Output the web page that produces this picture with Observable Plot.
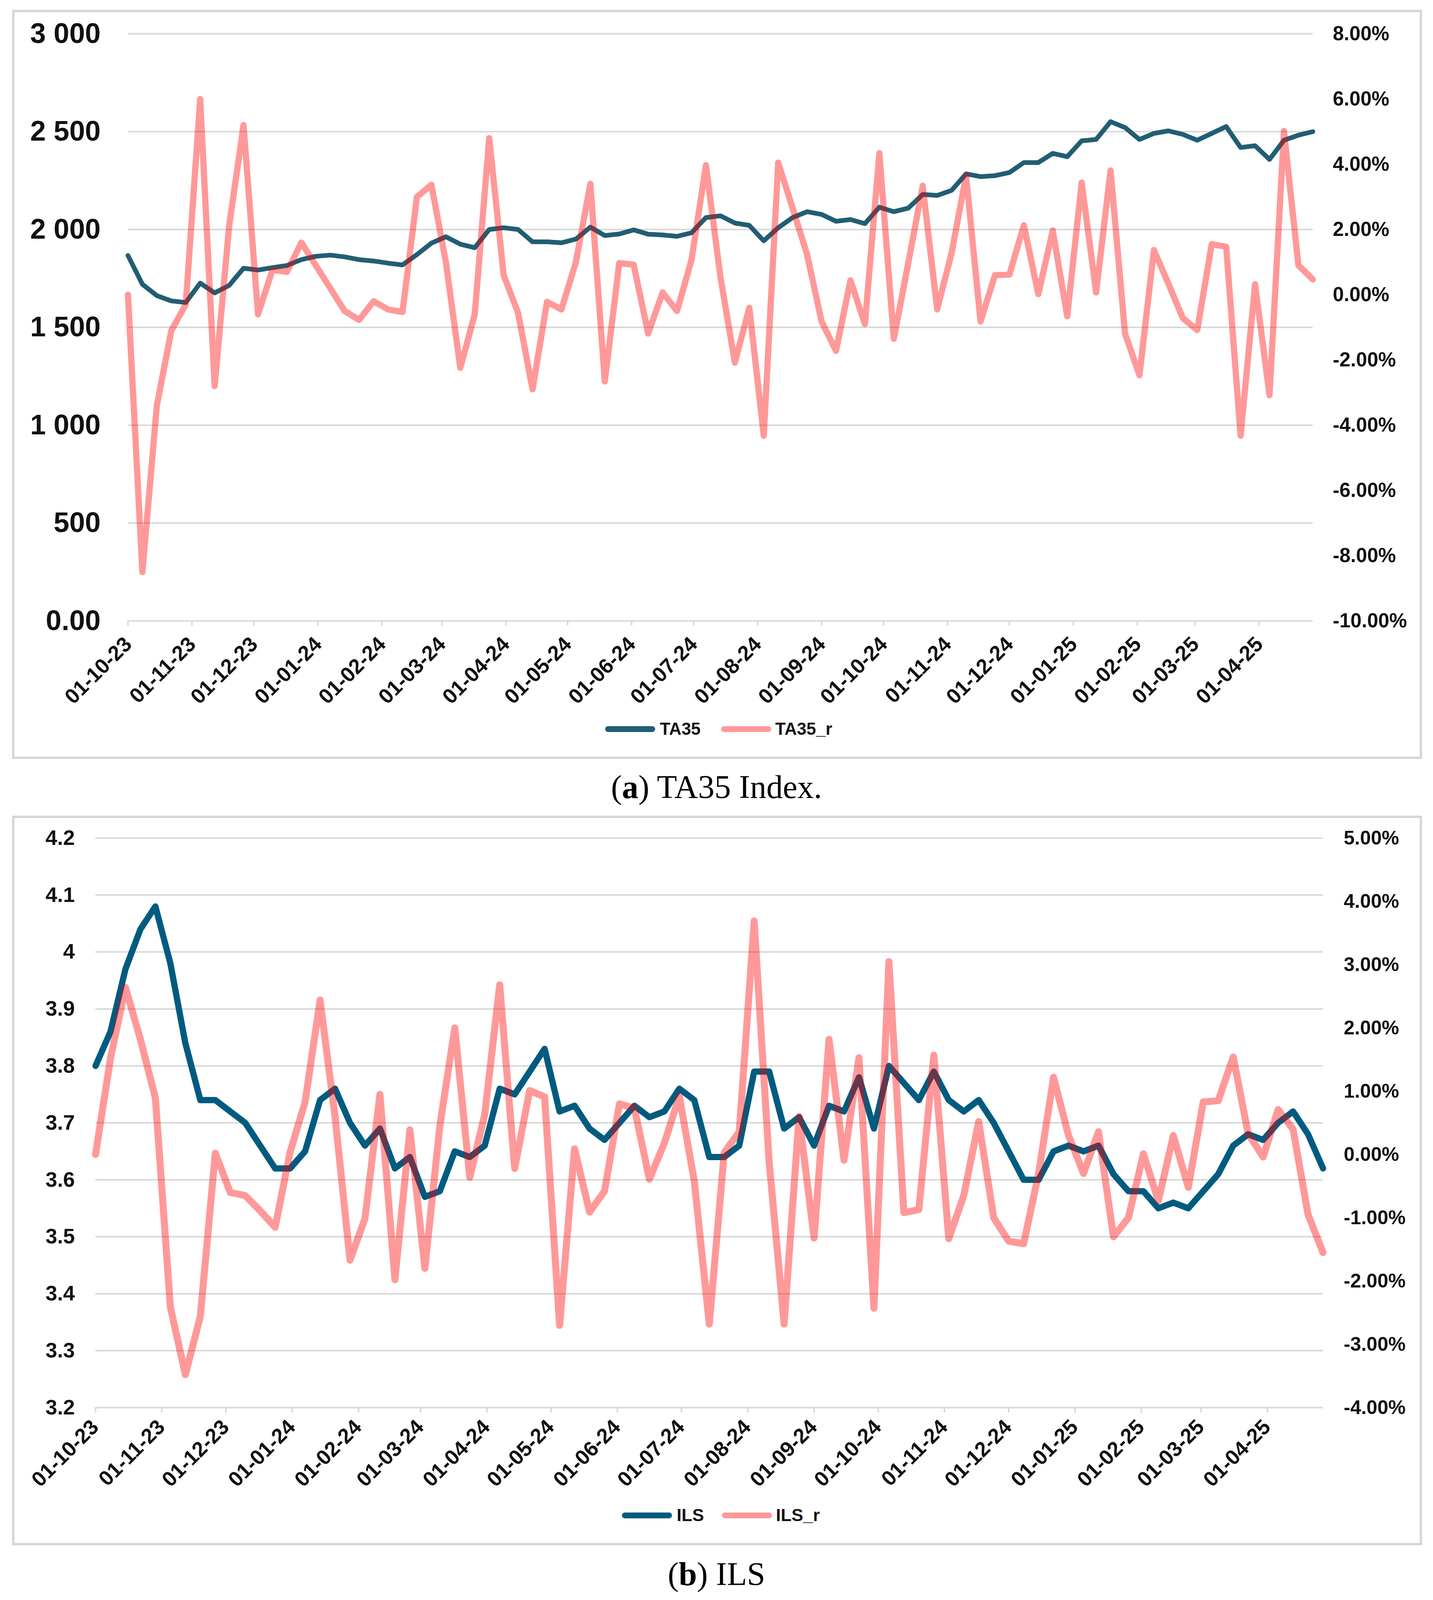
<!DOCTYPE html>
<html><head><meta charset="utf-8">
<script src="https://cdn.jsdelivr.net/npm/d3@7"></script>
<script src="https://cdn.jsdelivr.net/npm/@observablehq/plot@0.6"></script>
<style>
html,body{margin:0;padding:0;background:#fff;}
body{width:3668px;position:relative;overflow:hidden;font-family:"Liberation Sans",Arial,sans-serif;}
.box{position:absolute;border:6px solid #d6d6d6;box-sizing:border-box;}
.chart{position:absolute;left:0;}
.legend{position:absolute;display:flex;align-items:center;font-weight:bold;color:#151515;white-space:nowrap;height:50px;}
.sw{display:inline-block;width:128px;height:15px;border-radius:8px;}
.cap{position:absolute;left:0;width:3668px;text-align:center;font-family:"Liberation Serif","Times New Roman",serif;font-size:84px;line-height:84px;color:#000;}
</style></head><body>
<div id="boxA" class="box"></div>
<div id="boxB" class="box"></div>
<div id="top" class="chart"></div>
<div id="bot" class="chart"></div>
<div id="legA" class="legend" style="left:1549px;font-size:44px;">
  <span class="sw" style="background:#215e73;"></span><span style="margin-left:12px;">TA35</span>
  <span class="sw" style="background:rgba(255,0,0,0.4);margin-left:53px;"></span><span style="margin-left:10px;">TA35_r</span>
</div>
<div id="legB" class="legend" style="left:1592px;font-size:45px;">
  <span class="sw" style="background:#005b7f;"></span><span style="margin-left:12px;">ILS</span>
  <span class="sw" style="background:rgba(255,0,0,0.4);margin-left:46px;"></span><span style="margin-left:10px;">ILS_r</span>
</div>
<div id="capA" class="cap">(<b>a</b>) TA35 Index.</div>
<div id="capB" class="cap">(<b>b</b>) ILS</div>
<script>
// ---- data ----
const weeks = [
"2023-10-01","2023-10-08","2023-10-15","2023-10-22","2023-10-29","2023-11-05","2023-11-12","2023-11-19","2023-11-26","2023-12-03",
"2023-12-10","2023-12-17","2023-12-24","2023-12-31","2024-01-07","2024-01-14","2024-01-21","2024-01-28","2024-02-04","2024-02-11",
"2024-02-18","2024-02-25","2024-03-03","2024-03-10","2024-03-17","2024-03-24","2024-03-31","2024-04-07","2024-04-14","2024-04-21",
"2024-04-28","2024-05-05","2024-05-12","2024-05-19","2024-05-26","2024-06-02","2024-06-09","2024-06-16","2024-06-23","2024-06-30",
"2024-07-07","2024-07-14","2024-07-21","2024-07-28","2024-08-04","2024-08-11","2024-08-18","2024-08-25","2024-09-01","2024-09-08",
"2024-09-15","2024-09-22","2024-09-29","2024-10-06","2024-10-13","2024-10-20","2024-10-27","2024-11-03","2024-11-10","2024-11-17",
"2024-11-24","2024-12-01","2024-12-08","2024-12-15","2024-12-22","2024-12-29","2025-01-05","2025-01-12","2025-01-19","2025-01-26",
"2025-02-02","2025-02-09","2025-02-16","2025-02-23","2025-03-02","2025-03-09","2025-03-16","2025-03-23","2025-03-30","2025-04-06",
"2025-04-13","2025-04-20","2025-04-27"];

const monthTicks = ["2023-10-01","2023-11-01","2023-12-01","2024-01-01","2024-02-01","2024-03-01","2024-04-01","2024-05-01",
"2024-06-01","2024-07-01","2024-08-01","2024-09-01","2024-10-01","2024-11-01","2024-12-01","2025-01-01","2025-02-01","2025-03-01","2025-04-01"];

const TA35 = [1867,1720,1662,1635,1627,1726,1676,1714,1802,1793,
1805,1816,1846,1863,1869,1860,1846,1839,1828,1819,
1872,1930,1963,1925,1907,2000,2009,2000,1937,1937,
1932,1951,2012,1969,1977,1998,1976,1972,1965,1983,
2061,2070,2033,2021,1942,2009,2061,2091,2077,2042,
2051,2030,2114,2091,2109,2179,2174,2200,2284,2270,
2275,2291,2342,2342,2389,2372,2453,2460,2551,2521,
2460,2491,2504,2486,2456,2491,2526,2419,2428,2358,
2456,2482,2500];

const TA35_r = [0.0,-8.5,-3.4,-1.1,-0.3,6.0,-2.8,2.1,5.2,-0.6,
0.76,0.7,1.6,0.9,0.2,-0.5,-0.77,-0.2,-0.45,-0.53,
3.0,3.37,1.0,-2.24,-0.6,4.8,0.6,-0.56,-2.9,-0.22,
-0.45,1.0,3.4,-2.66,0.97,0.92,-1.19,0.07,-0.5,1.07,
3.97,0.55,-2.08,-0.4,-4.32,4.05,2.65,1.23,-0.82,-1.72,
0.44,-0.9,4.34,-1.35,0.97,3.34,-0.45,1.28,3.65,-0.82,
0.6,0.62,2.13,0.02,1.97,-0.66,3.44,0.07,3.81,-1.19,
-2.47,1.37,0.34,-0.72,-1.08,1.55,1.47,-4.32,0.32,-3.08,
5.02,0.9,0.47];

const ILS = [3.80,3.86,3.97,4.04,4.08,3.98,3.84,3.74,3.74,3.72,
3.70,3.66,3.62,3.62,3.65,3.74,3.76,3.70,3.66,3.69,
3.62,3.64,3.57,3.58,3.65,3.64,3.66,3.76,3.75,3.79,
3.83,3.72,3.73,3.69,3.67,3.70,3.73,3.71,3.72,3.76,
3.74,3.64,3.64,3.66,3.79,3.79,3.69,3.71,3.66,3.73,
3.72,3.78,3.69,3.80,3.77,3.74,3.79,3.74,3.72,3.74,
3.70,3.65,3.60,3.60,3.65,3.66,3.65,3.66,3.61,3.58,
3.58,3.55,3.56,3.55,3.58,3.61,3.66,3.68,3.67,3.70,
3.72,3.68,3.62];

const ILS_r = [0.0,1.52,2.64,1.82,0.89,-2.41,-3.48,-2.56,0.02,-0.6,
-0.65,-0.89,-1.15,0.04,0.83,2.44,0.6,-1.67,-1.01,0.95,
-1.98,0.39,-1.8,0.45,2.0,-0.36,0.63,2.68,-0.22,1.01,
0.91,-2.7,0.09,-0.91,-0.58,0.8,0.73,-0.39,0.18,0.92,
-0.42,-2.68,0.03,0.36,3.69,-0.12,-2.68,0.6,-1.32,1.82,
-0.09,1.53,-2.43,3.05,-0.92,-0.87,1.57,-1.33,-0.65,0.52,
-1.0,-1.37,-1.41,-0.3,1.22,0.3,-0.3,0.36,-1.3,-1.0,
0.01,-0.73,0.3,-0.52,0.83,0.85,1.54,0.33,-0.04,0.71,
0.4,-0.95,-1.55];

const taLeftTicks = [0,500,1000,1500,2000,2500,3000];
const taRightTicks = [-10,-8,-6,-4,-2,0,2,4,6,8];
const ilsLeftTicks = [3.2,3.3,3.4,3.5,3.6,3.7,3.8,3.9,4.0,4.1,4.2];
const ilsRightTicks = [-4,-3,-2,-1,0,1,2,3,4,5];

// ---- layout: vertical positions follow the visible page height ----
const H = Math.min(4752, window.innerHeight || 4752);
const k = H / 4752;
const sy = v => Math.round(v * k);
document.body.style.height = H + "px";
function place(id, top, height) {
  const el = document.getElementById(id);
  el.style.top = top + "px";
  if (height != null) el.style.height = height + "px";
}
const boxA = document.getElementById("boxA");
boxA.style.left = "31px"; boxA.style.width = "3609px";
place("boxA", sy(29), sy(2254) - sy(29));
const boxB = document.getElementById("boxB");
boxB.style.left = "31px"; boxB.style.width = "3609px";
place("boxB", sy(2422), sy(4589) - sy(2422));
place("top", 0);
place("bot", sy(2400));
place("legA", sy(2165) - 25);
place("legB", sy(4500) - 25);
place("capA", sy(2370) - 70);
place("capB", sy(4708) - 70);

// ---- build ----
const parse = d3.utcParse("%Y-%m-%d");
const dates = weeks.map(parse);
const mTicks = monthTicks.map(parse);
const fmtX = d3.utcFormat("%d-%m-%y");
const taRows = dates.map((d,i)=>({date:d, v:TA35[i], r:TA35_r[i]}));
const ilsRows = dates.map((d,i)=>({date:d, v:ILS[i], r:ILS_r[i]}));

const grid = "#d9d9d9";
const red = "#ff0000";
const font = "Liberation Sans, Arial, sans-serif";

// top: right axis (-10..8 %) mapped into left domain (0..3000)
const taToLeft = p => (p + 10) / 18 * 3000;
const taFromLeft = v => v * 18 / 3000 - 10;

const topH = sy(2100);
const topPlot = Plot.plot({
  width: 3668, height: topH,
  marginLeft: 327, marginRight: 308, marginTop: sy(100), marginBottom: topH - sy(1843),
  style: {background: "transparent", fontFamily: font, overflow: "visible"},
  x: {type: "utc", domain: [dates[0], dates[dates.length-1]], axis: null},
  y: {domain: [0, 3000], axis: null},
  marks: [
    Plot.ruleY(taLeftTicks, {stroke: grid, strokeWidth: 4}),
    Plot.ruleX(mTicks, {x: d => d, y1: 0, y2: -25, stroke: grid, strokeWidth: 4}),
    Plot.axisY({anchor: "left", ticks: taLeftTicks, tickSize: 0, tickPadding: 70, label: null,
      tickFormat: d => d === 0 ? "0.00" : d3.format(",")(d).replace(",", " "),
      fontSize: 72, fontWeight: "bold", fill: "#111"}),
    Plot.axisY({anchor: "right", ticks: taRightTicks.map(taToLeft), tickSize: 0, tickPadding: 51, label: null,
      tickFormat: v => taFromLeft(v).toFixed(2) + "%",
      fontSize: 51, fontWeight: "bold", fill: "#111"}),
    Plot.text(mTicks, {x: d => d, frameAnchor: "bottom", text: d => fmtX(d), rotate: -45,
      textAnchor: "end", dx: 13, dy: 63, fontSize: 54, fontWeight: "bold", fill: "#111"}),
    Plot.line(taRows, {x: "date", y: "v", stroke: "#215e73", strokeWidth: 12,
      strokeLinejoin: "round", strokeLinecap: "round"}),
    Plot.line(taRows, {x: "date", y: d => taToLeft(d.r), stroke: red, strokeOpacity: 0.4, strokeWidth: 16,
      strokeLinejoin: "round", strokeLinecap: "round"})
  ]
});
document.getElementById("top").append(topPlot);

// bottom: right axis (-4..5 %) mapped into left domain (3.2..4.2)
const ilsToLeft = p => 3.2 + (p + 4) / 9;
const ilsFromLeft = v => (v - 3.2) * 9 - 4;

const botTop = sy(2400);
const botH = sy(4400) - botTop;
const botPlot = Plot.plot({
  width: 3668, height: botH,
  marginLeft: 244, marginRight: 282, marginTop: sy(2489) - botTop, marginBottom: botH - (sy(4180) - botTop),
  style: {background: "transparent", fontFamily: font, overflow: "visible"},
  x: {type: "utc", domain: [dates[0], dates[dates.length-1]], axis: null},
  y: {domain: [3.2, 4.2], axis: null},
  marks: [
    Plot.ruleY(ilsLeftTicks, {stroke: grid, strokeWidth: 4}),
    Plot.ruleX(mTicks, {x: d => d, y1: 3.2, y2: 3.191, stroke: grid, strokeWidth: 4}),
    Plot.axisY({anchor: "left", ticks: ilsLeftTicks, tickSize: 0, tickPadding: 53, label: null,
      tickFormat: d => String(+d.toFixed(1)),
      fontSize: 54, fontWeight: "bold", fill: "#111"}),
    Plot.axisY({anchor: "right", ticks: ilsRightTicks.map(ilsToLeft), tickSize: 0, tickPadding: 53, label: null,
      tickFormat: v => (Math.round(ilsFromLeft(v) * 100) / 100).toFixed(2) + "%",
      fontSize: 50, fontWeight: "bold", fill: "#111"}),
    Plot.text(mTicks, {x: d => d, frameAnchor: "bottom", text: d => fmtX(d), rotate: -45,
      textAnchor: "end", dx: 11, dy: 53, fontSize: 54, fontWeight: "bold", fill: "#111"}),
    Plot.line(ilsRows, {x: "date", y: "v", stroke: "#005b7f", strokeWidth: 16,
      strokeLinejoin: "round", strokeLinecap: "round"}),
    Plot.line(ilsRows, {x: "date", y: d => ilsToLeft(d.r), stroke: red, strokeOpacity: 0.4, strokeWidth: 18,
      strokeLinejoin: "round", strokeLinecap: "round"})
  ]
});
document.getElementById("bot").append(botPlot);
</script>
</body></html>
